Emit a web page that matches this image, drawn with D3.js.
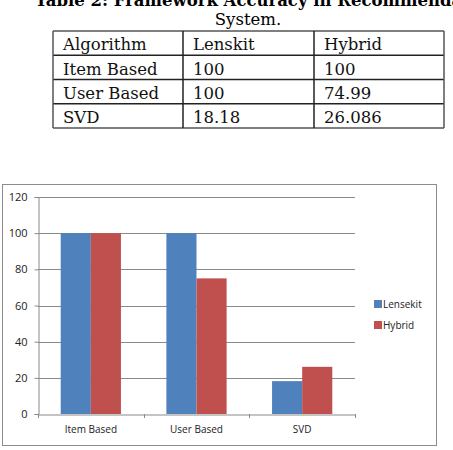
<!DOCTYPE html>
<html>
<head>
<script src="https://d3js.org/d3.v7.min.js"></script>
<style>
  body { margin: 0; background: #fff; }
  svg { display: block; }
</style>
</head>
<body>
<div id="chart"></div>
<script>
// table + chart data
const algorithms = ["Item Based", "User Based", "SVD"];
const lenskit = [100, 100, 18.18];
const hybrid = [100, 74.99, 26.086];
const tableHeader = ["Algorithm", "Lenskit", "Hybrid"];
const tableLenskit = ["100", "100", "18.18"];
const tableHybrid = ["100", "74.99", "26.086"];
const seriesNames = ["Lensekit", "Hybrid"];
const seriesColors = ["#4f81bd", "#c0504d"];
const yTicks = [0, 20, 40, 60, 80, 100, 120];

const svg = d3.select("#chart").append("svg")
    .attr("width", 453).attr("height", 450);

// caption (top line is cut off in the picture)
const serif = "'DejaVu Serif', 'Liberation Serif', serif";
svg.append("text")
    .attr("x", 35).attr("y", 6)
    .attr("font-family", serif).attr("font-size", 16.5).attr("font-weight", "bold")
    .text("Table 2: Framework Accuracy in Recommendation");
svg.append("text")
    .attr("x", 248).attr("y", 25).attr("text-anchor", "middle")
    .attr("font-family", serif).attr("font-size", 16.5)
    .text("System.");

// table
const rows = [tableHeader].concat(algorithms.map((a, i) => [a, tableLenskit[i], tableHybrid[i]]));
const colX = d3.scaleOrdinal().domain([0, 1, 2, 3]).range([53, 183, 314, 444]);
const rowY = d3.scaleLinear().domain([0, rows.length]).range([31, 128]);

const table = svg.append("g");
rows.forEach((r, ri) => {
    r.forEach((cell, ci) => {
        table.append("text")
            .attr("x", colX(ci) + 10)
            .attr("y", rowY(ri + 1) - 5)
            .attr("font-family", serif).attr("font-size", 16.5)
            .attr("fill", "#111")
            .text(cell);
    });
});
d3.range(rows.length + 1).forEach(i => {
    table.append("line")
        .attr("x1", 53).attr("x2", 444)
        .attr("y1", rowY(i)).attr("y2", rowY(i))
        .attr("stroke", i === 0 || i === rows.length ? "#555" : "#222")
        .attr("stroke-width", 1.5);
});
[0, 1, 2, 3].forEach(i => {
    table.append("line")
        .attr("x1", colX(i)).attr("x2", colX(i))
        .attr("y1", rowY(0)).attr("y2", rowY(rows.length))
        .attr("stroke", i === 0 || i === 3 ? "#555" : "#222")
        .attr("stroke-width", 1.5);
});

// chart frame
svg.append("rect")
    .attr("x", 2.5).attr("y", 184.5).attr("width", 434).attr("height", 261)
    .attr("fill", "#fff").attr("stroke", "#8c8c8c").attr("stroke-width", 1);

const sans = "'Open Sans', 'DejaVu Sans', sans-serif";
const plot = { left: 38, right: 355, top: 197, bottom: 414 };

const x = d3.scaleBand().domain(algorithms)
    .range([plot.left, plot.right])
    .paddingInner(0.43).paddingOuter(0.215);
const xs = d3.scaleBand().domain(seriesNames).range([0, x.bandwidth()]);
const y = d3.scaleLinear().domain([0, 120]).range([plot.bottom, plot.top]);

// gridlines
svg.append("g").selectAll("line").data(yTicks.slice(1)).join("line")
    .attr("x1", plot.left).attr("x2", plot.right)
    .attr("y1", d => Math.round(y(d)) + 0.5).attr("y2", d => Math.round(y(d)) + 0.5)
    .attr("stroke", "#8a8a8a").attr("stroke-width", 1);

// bars
const data = [lenskit, hybrid];
const groups = svg.append("g").selectAll("g").data(seriesNames).join("g")
    .attr("fill", (d, i) => seriesColors[i]);
groups.selectAll("rect")
    .data((s, si) => algorithms.map((a, i) => ({ a, s, v: data[si][i] })))
    .join("rect")
    .attr("x", d => x(d.a) + xs(d.s))
    .attr("width", xs.bandwidth())
    .attr("y", d => y(d.v))
    .attr("height", d => y(0) - y(d.v));

// y axis
const yAxis = svg.append("g")
    .attr("transform", `translate(${plot.left + 0.5},0)`)
    .call(d3.axisLeft(y).tickValues(yTicks).tickSize(4).tickPadding(7));
yAxis.select(".domain").attr("stroke", "#8a8a8a");
yAxis.selectAll(".tick line").attr("stroke", "#8a8a8a");
yAxis.selectAll("text").attr("font-family", sans).attr("font-size", 11).attr("fill", "#222");

// x axis
const xAxis = svg.append("g")
    .attr("transform", `translate(0,${Math.round(plot.bottom) + 0.5})`)
    .call(d3.axisBottom(x).tickSize(0).tickPadding(11));
xAxis.select(".domain").attr("stroke", "#8a8a8a");
xAxis.selectAll("text").attr("font-family", sans).attr("font-size", 10).attr("fill", "#222");
// category boundary ticks
const bounds = algorithms.map(a => x(a) - x.step() * x.paddingInner() / 2).concat([plot.right]);
svg.append("g").selectAll("line").data(bounds).join("line")
    .attr("x1", d => Math.round(d) + 0.5).attr("x2", d => Math.round(d) + 0.5)
    .attr("y1", plot.bottom).attr("y2", plot.bottom + 4)
    .attr("stroke", "#8a8a8a");

// legend
const legend = svg.append("g").selectAll("g").data(seriesNames).join("g")
    .attr("transform", (d, i) => `translate(374,${300 + i * 21})`);
legend.append("rect")
    .attr("width", 8).attr("height", 8)
    .attr("fill", (d, i) => seriesColors[i]);
legend.append("text")
    .attr("x", 9).attr("y", 4).attr("dy", "0.35em")
    .attr("font-family", sans).attr("font-size", 10).attr("fill", "#222")
    .text(d => d);
</script>
</body>
</html>
